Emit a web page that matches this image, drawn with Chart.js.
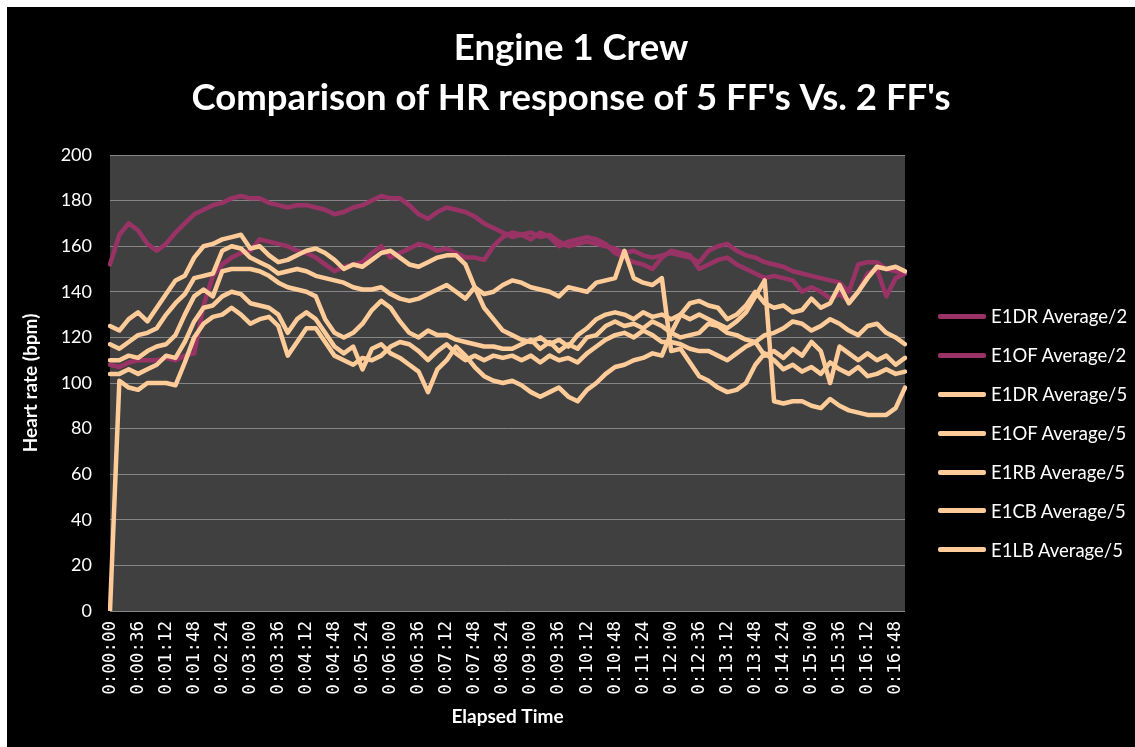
<!DOCTYPE html>
<html lang="en">
<head>
<meta charset="UTF-8">
<meta name="viewport" content="width=device-width, initial-scale=1.0">
<title>Engine 1 Crew - HR response</title>
<script src="https://cdn.jsdelivr.net/npm/chart.js"></script>
<style>
    body {
        margin: 0;
        background: white;
        font-family: Lato, sans-serif;
    }

    .frame {
        position: absolute;
        left: 7px;
        top: 7px;
        width: 1128px;
        height: 740px;
        background: black;
    }

    .chart-box {
        position: absolute;
        left: 0;
        top: 0;
        width: 1128px;
        height: 740px;
    }

    .legend {
        position: absolute;
        left: 931px;
        top: 290px;
        color: white;
        font-size: 18.5px;
    }

    .legend-item {
        display: flex;
        align-items: center;
        height: 38.9px;
        white-space: nowrap;
    }

    .legend-line {
        width: 48px;
        height: 5px;
        margin-right: 5px;
        border-radius: 2px;
    }
</style>
</head>
<body>
<div class="frame">
    <div class="chart-box"><canvas id="hrChart"></canvas></div>
    <div class="legend" id="legend"></div>
</div>

<script>
    // one sample every 12 s, 0:00:00 .. 0:17:00
    const sampleStep = 12;
    const sampleCount = 86;

    const seriesNames = ["E1DR Average/2", "E1OF Average/2", "E1DR Average/5", "E1OF Average/5",
                         "E1RB Average/5", "E1CB Average/5", "E1LB Average/5"];
    const seriesColors = ["#993366", "#993366", "#FFCC99", "#FFCC99", "#FFCC99", "#FFCC99", "#FFCC99"];

    const e1drAvg2 = [152,165,170,167,161,158,161,166,170,174,176,178,179,181,182,181,181,179,178,177,178,178,
                      177,176,174,175,177,178,180,182,181,181,178,174,172,175,177,176,175,173,170,168,166,
                      164,165,166,164,165,162,160,161,162,161,160,159,157,158,156,155,156,157,156,155,153,
                      158,160,161,158,156,155,153,152,151,149,148,147,146,145,144,140,152,153,153,150,149,148];
    const e1ofAvg2 = [108,107,109,110,110,110,111,110,112,113,134,147,152,155,157,158,163,162,161,160,158,157,
                      155,152,149,151,152,153,157,160,155,157,159,161,160,158,159,157,155,155,154,160,164,
                      166,165,163,166,164,160,162,163,164,163,161,157,155,153,152,150,155,158,157,156,150,
                      152,154,155,152,150,148,146,147,146,145,140,142,140,137,139,136,140,148,150,138,146,148];
    const e1drAvg5 = [0,101,98,97,100,100,100,99,109,120,126,129,130,133,130,126,128,129,125,112,118,124,
                      124,118,112,110,108,111,110,112,116,118,117,114,110,114,117,113,110,112,110,112,111,
                      112,110,112,109,112,110,111,109,113,116,119,121,122,120,123,121,118,118,117,115,114,
                      114,112,110,113,116,118,112,114,111,115,112,118,114,100,116,113,110,113,110,112,108,111];
    const e1ofAvg5 = [125,123,128,131,127,133,139,145,147,155,160,161,163,164,165,159,160,156,153,154,156,158,
                      159,157,154,150,152,151,154,157,158,155,152,151,153,155,156,156,152,142,133,128,123,
                      121,119,118,120,117,119,116,121,124,128,130,131,130,128,131,129,130,128,130,128,130,
                      128,126,124,127,131,138,145,92,91,92,92,90,89,93,90,88,87,86,86,86,89,98];
    const e1rbAvg5 = [117,115,118,121,122,124,130,135,139,146,147,148,158,160,159,155,153,151,148,149,150,149,
                      147,146,145,144,142,141,141,142,139,137,136,137,139,141,143,140,137,142,139,140,143,
                      145,144,142,141,140,138,142,141,140,144,145,146,158,146,144,143,146,114,115,109,103,
                      101,98,96,97,100,108,113,110,106,108,105,107,104,109,106,104,107,103,104,106,104,105];
    const e1cbAvg5 = [110,110,112,111,114,116,117,121,130,138,141,138,149,150,150,150,149,147,144,142,141,140,
                      138,128,122,120,122,126,132,136,133,127,122,120,123,121,121,119,118,117,116,116,115,
                      115,117,119,115,118,114,117,115,120,121,125,127,125,126,124,127,125,122,120,121,122,
                      126,125,122,121,119,118,121,122,124,127,126,123,125,128,126,123,121,125,126,122,120,117];
    const e1lbAvg5 = [104,104,106,104,106,108,112,111,118,127,133,134,138,140,139,135,134,133,130,122,128,131,
                      128,122,116,113,116,106,115,117,113,111,108,105,96,106,110,116,112,107,103,101,100,
                      101,99,96,94,96,98,94,92,97,100,104,107,108,110,111,113,112,122,130,135,136,
                      134,133,128,130,134,140,135,133,134,131,132,137,133,135,143,135,140,146,151,150,151,149];

    const seriesValues = [e1drAvg2, e1ofAvg2, e1drAvg5, e1ofAvg5, e1rbAvg5, e1cbAvg5, e1lbAvg5];

    // x labels h:mm:ss, every third one is shown (36 s apart)
    let timeLabels = [];
    for (let i = 0; i < sampleCount; i++) {
        let s = i * sampleStep;
        let mm = String(Math.floor(s / 60) % 60).padStart(2, "0");
        let ss = String(s % 60).padStart(2, "0");
        timeLabels.push(Math.floor(s / 3600) + ":" + mm + ":" + ss);
    }

    const plotBackground = {
        id: "plotBackground",
        beforeDraw(chart) {
            const a = chart.chartArea;
            const ctx = chart.ctx;
            ctx.save();
            ctx.fillStyle = "#404040";
            ctx.fillRect(a.left, a.top, a.right - a.left, a.bottom - a.top);
            ctx.restore();
        }
    };

    let datasets = seriesNames.map((name, i) => ({
        label: name,
        data: seriesValues[i],
        yAxisID: "y",
        borderColor: seriesColors[i],
        backgroundColor: seriesColors[i],
        borderWidth: 4.5,
        borderJoinStyle: "round",
        borderCapStyle: "round",
        pointRadius: 0,
        tension: 0,
        fill: false,
        order: i < 2 ? 1 : 0
    }));

    let ctx = document.getElementById("hrChart").getContext("2d");
    let hrChart = new Chart(ctx, {
        type: "line",
        data: { labels: timeLabels, datasets: datasets },
        options: {
            responsive: true,
            maintainAspectRatio: false,
            animation: false,
            layout: { padding: 0 },
            plugins: {
                legend: { display: false },
                tooltip: { enabled: false },
                title: {
                    display: true,
                    text: ["Engine 1 Crew", "Comparison of HR response of 5 FF's Vs. 2 FF's"],
                    color: "white",
                    font: { family: "Lato", size: 36.5, weight: "bold", lineHeight: 50 / 36.5 },
                    padding: { top: 16, bottom: 32 }
                }
            },
            scales: {
                x: {
                    grid: { display: false, drawTicks: false },
                    border: { display: false },
                    ticks: {
                        autoSkip: false,
                        minRotation: 90,
                        maxRotation: 90,
                        color: "white",
                        padding: 10,
                        font: { family: "DejaVu Sans Mono", size: 17.5 },
                        callback: function (val, idx) {
                            return idx % 3 === 0 ? this.getLabelForValue(val) : null;
                        }
                    },
                    title: {
                        display: true,
                        text: "Elapsed Time",
                        color: "white",
                        font: { family: "Lato", size: 19, weight: "bold" },
                        padding: { top: 0, bottom: 19 }
                    },
                    afterFit: function (scale) { scale.height = 136; }
                },
                y: {
                    min: 0,
                    max: 200,
                    grid: { color: "#868686", lineWidth: 1, drawTicks: false },
                    border: { display: false },
                    ticks: {
                        stepSize: 20,
                        color: "white",
                        padding: 18,
                        font: { family: "Lato", size: 18 }
                    },
                    title: {
                        display: true,
                        text: "Heart rate (bpm)",
                        color: "white",
                        font: { family: "Lato", size: 19, weight: "bold" },
                        padding: { top: 12, bottom: 0 }
                    },
                    afterFit: function (scale) { scale.width = 103; }
                },
                // empty right-hand box that keeps room for the legend
                legendSpace: {
                    position: "right",
                    grid: { display: false, drawTicks: false },
                    border: { display: false },
                    ticks: { display: false },
                    afterFit: function (scale) { scale.width = 230; }
                }
            }
        },
        plugins: [plotBackground]
    });

    // legend on the right, same order as the series
    let legendHtml = "";
    for (let i = 0; i < seriesNames.length; i++) {
        legendHtml += `<div class="legend-item"><span class="legend-line" style="background:${seriesColors[i]}"></span>${seriesNames[i]}</div>`;
    }
    document.getElementById("legend").innerHTML = legendHtml;
</script>
</body>
</html>
